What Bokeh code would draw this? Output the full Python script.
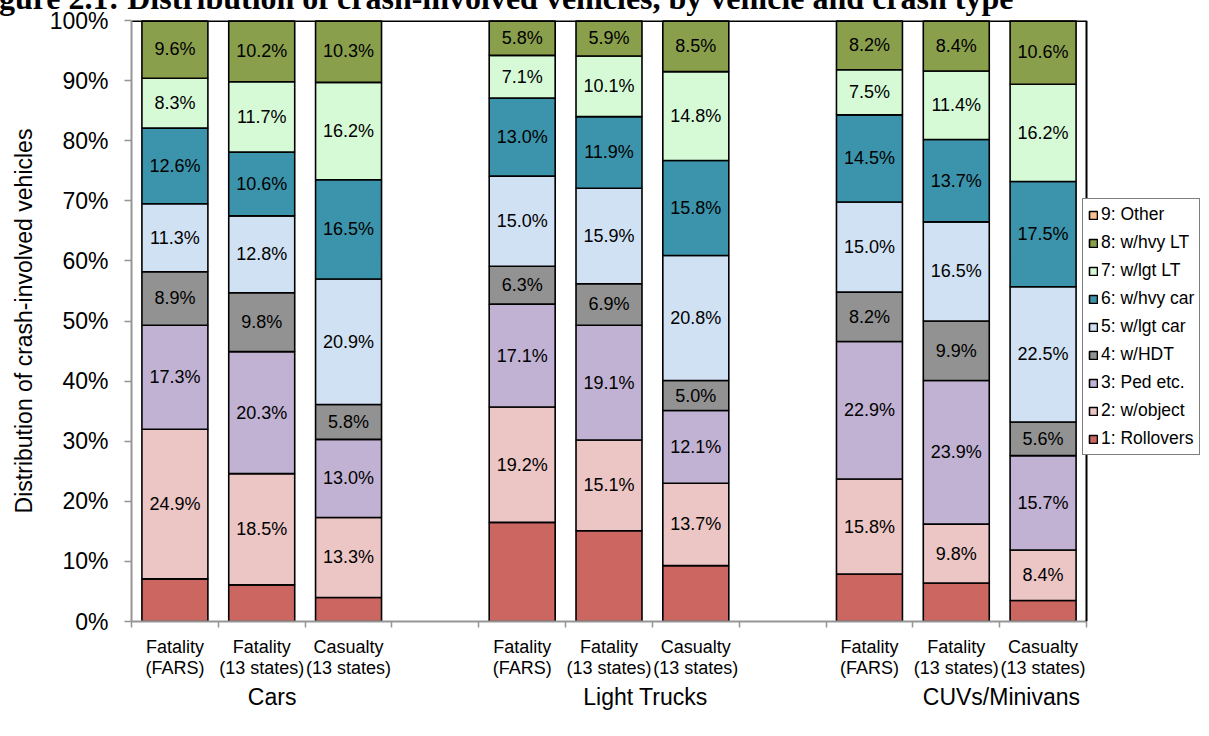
from bokeh.plotting import figure
from bokeh.models import (ColumnDataSource, FixedTicker, Legend, LegendItem, Span,
                          PrintfTickFormatter, LinearAxis)
from bokeh.core.properties import value
from bokeh.embed import file_html
from bokeh.resources import INLINE

# ---------------- data ----------------
groups = ["Cars", "Light Trucks", "CUVs/Minivans"]
crash_types = ["Fatality\n(FARS)", "Fatality\n(13 states)", "Casualty\n(13 states)"]
series_names = ["1: Rollovers", "2: w/object", "3: Ped etc.", "4: w/HDT", "5: w/lgt car",
                "6: w/hvy car", "7: w/lgt LT", "8: w/hvy LT", "9: Other"]

rollovers = [7.1, 6.1, 4.0, 16.5, 15.1, 9.3, 7.9, 6.4, 3.5]
w_object  = [24.9, 18.5, 13.3, 19.2, 15.1, 13.7, 15.8, 9.8, 8.4]
ped_etc   = [17.3, 20.3, 13.0, 17.1, 19.1, 12.1, 22.9, 23.9, 15.7]
w_hdt     = [8.9, 9.8, 5.8, 6.3, 6.9, 5.0, 8.2, 9.9, 5.6]
w_lgt_car = [11.3, 12.8, 20.9, 15.0, 15.9, 20.8, 15.0, 16.5, 22.5]
w_hvy_car = [12.6, 10.6, 16.5, 13.0, 11.9, 15.8, 14.5, 13.7, 17.5]
w_lgt_lt  = [8.3, 11.7, 16.2, 7.1, 10.1, 14.8, 7.5, 11.4, 16.2]
w_hvy_lt  = [9.6, 10.2, 10.3, 5.8, 5.9, 8.5, 8.2, 8.4, 10.6]
other     = [0.0, 0.0, 0.0, 0.0, 0.0, 0.0, 0.0, 0.0, 0.0]

series = [rollovers, w_object, ped_etc, w_hdt, w_lgt_car, w_hvy_car, w_lgt_lt, w_hvy_lt, other]
labelled = [False, True, True, True, True, True, True, True, False]

colors = ["#CC6660", "#ECC5C5", "#C1B1D2", "#929292", "#D0E1F3",
          "#3B94AB", "#D6FAD6", "#8A9F4C", "#FAC090"]

title_text = "Figure 2.1: Distribution of crash-involved vehicles, by vehicle and crash type"
y_label = "Distribution of crash-involved vehicles"

# ---------------- layout helpers ----------------
n_types = len(crash_types)
x_pos = [g * (n_types + 1) + c for g in range(len(groups)) for c in range(n_types)]
x_labels = [crash_types[c] for g in range(len(groups)) for c in range(n_types)]
n_slots = len(groups) * (n_types + 1) - 1
boundaries = [i - 0.5 for i in range(n_slots + 1)]
group_centers = [g * (n_types + 1) + (n_types - 1) / 2 for g in range(len(groups))]
group_label_shift = [0.12, 0.42, 0.52]
group_label_pos = [c + s for c, s in zip(group_centers, group_label_shift)]

keys = ["s%d" % i for i in range(len(series))]
data = {"x": x_pos}
for k, s in zip(keys, series):
    data[k] = s
src = ColumnDataSource(data)

lx, ly, lt = [], [], []
for j in range(len(x_pos)):
    bottom = 0.0
    for i, s in enumerate(series):
        if labelled[i]:
            lx.append(x_pos[j])
            ly.append(bottom + s[j] / 2)
            lt.append("%.1f%%" % s[j])
        bottom += s[j]
lsrc = ColumnDataSource(dict(x=lx, y=ly, t=lt))

FONT = "Liberation Sans"
GRAY = "#959595"

# pixel layout: plot area 131..1086 px wide; the frame is extended to the right
# edge so the legend (which overlaps the plot border) is not clipped
W, H, TOP_SHIFT = 1209, 765, 29
LEFT, PLOT_RIGHT = 131, 1086
x_end = boundaries[0] + (boundaries[-1] - boundaries[0]) * (W - LEFT) / (PLOT_RIGHT - LEFT)

p = figure(width=W, height=H, x_range=(boundaries[0], x_end), y_range=(0, 100),
           output_backend="svg", toolbar_location=None,
           min_border_left=LEFT, min_border_right=0, min_border_top=49, min_border_bottom=115)
# the source figure's title is cut off at the top edge of the image
p.styles = {"margin-top": "-%dpx" % TOP_SHIFT}
p.outline_line_color = None
p.xgrid.grid_line_color = None
p.ygrid.grid_line_color = None
p.background_fill_color = "white"

p.title.text = title_text
p.title.text_font = "Liberation Serif"
p.title.text_font_size = "32px"
p.title.text_font_style = "bold"
p.title.text_color = "black"
p.title.align = "left"
p.title.offset = -161
p.title.standoff = 8.5

renderers = p.vbar_stack(keys, x="x", width=0.76, source=src, fill_color=colors,
                         line_color="black", line_width=1.6)

p.text(x="x", y="y", text="t", source=lsrc, text_font=value(FONT), text_font_size="18px",
       text_align="center", text_baseline="middle", text_color="black")

# plot-area top/right border
p.segment(x0=[boundaries[0]], y0=[100], x1=[boundaries[-1]], y1=[100], line_color="black", line_width=3)
p.add_layout(Span(location=boundaries[-1], dimension="height", line_color="black", line_width=2))

# y axis
p.yaxis.ticker = FixedTicker(ticks=list(range(0, 101, 10)))
p.yaxis.formatter = PrintfTickFormatter(format="%d%%")
p.yaxis.minor_tick_line_color = None
p.yaxis.axis_line_color = GRAY
p.yaxis.axis_line_width = 2
p.yaxis.major_tick_line_color = GRAY
p.yaxis.major_tick_line_width = 1.5
p.yaxis.major_tick_out = 7
p.yaxis.major_tick_in = 0
p.yaxis.major_label_text_font = FONT
p.yaxis.major_label_text_font_size = "23px"
p.yaxis.major_label_text_color = "black"
p.yaxis.major_label_standoff = 16
p.yaxis.axis_label = y_label
p.yaxis.axis_label_text_font = FONT
p.yaxis.axis_label_text_font_size = "23px"
p.yaxis.axis_label_text_font_style = "normal"
p.yaxis.axis_label_text_color = "black"
p.yaxis.axis_label_standoff = 10

# x axis (crash types)
xax = p.xaxis[0]
xax.bounds = (boundaries[0], boundaries[-1])
xax.ticker = FixedTicker(ticks=x_pos, minor_ticks=boundaries)
xax.major_label_overrides = {x: l for x, l in zip(x_pos, x_labels)}
xax.axis_line_color = GRAY
xax.axis_line_width = 2
xax.major_tick_line_color = None
xax.minor_tick_line_color = GRAY
xax.minor_tick_line_width = 1.5
xax.minor_tick_out = 6
xax.minor_tick_in = 0
xax.major_label_text_font = FONT
xax.major_label_text_font_size = "18px"
xax.major_label_text_line_height = 1.06
xax.major_label_text_color = "black"
xax.major_label_standoff = 9

# second x axis (vehicle groups)
gax = LinearAxis(ticker=FixedTicker(ticks=group_label_pos, minor_ticks=[]),
                 major_label_overrides={x: g for x, g in zip(group_label_pos, groups)})
gax.axis_line_color = None
gax.major_tick_line_color = None
gax.minor_tick_line_color = None
gax.major_label_text_font = FONT
gax.major_label_text_font_size = "23px"
gax.major_label_text_color = "black"
gax.major_label_standoff = -3
p.add_layout(gax, "below")

# legend
items = [LegendItem(label=n, renderers=[r]) for n, r in zip(series_names, renderers)]
items.reverse()
legend = Legend(items=items, location=(1082 - LEFT, 166), glyph_width=10, glyph_height=10,
                label_text_font=FONT, label_text_font_size="17.5px", label_text_color="black",
                label_standoff=3, label_height=18, spacing=7, padding=5, margin=0,
                border_line_color="black", border_line_width=1.5,
                background_fill_color="white", background_fill_alpha=1.0)
p.add_layout(legend)

open("out.html", "w").write(file_html(p, INLINE))
